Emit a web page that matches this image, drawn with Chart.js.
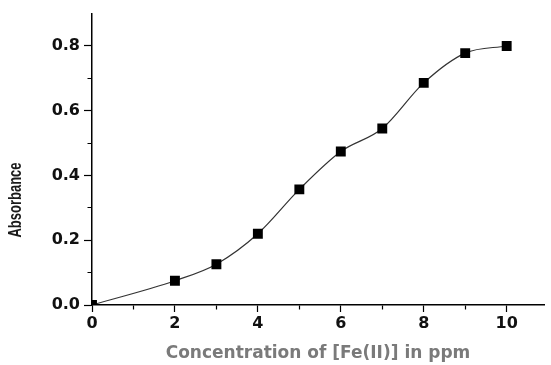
<!DOCTYPE html>
<html lang="en">
<head>
    <meta charset="UTF-8">
    <title>Absorbance vs Concentration</title>
    <script src="https://cdn.jsdelivr.net/npm/chart.js"></script>
    <style>
        body {
            margin: 0;
            background: #fff;
        }
        #wrap {
            width: 551px;
            height: 365px;
        }
    </style>
</head>
<body>
    <div id="wrap">
        <canvas id="absChart" width="551" height="365"></canvas>
    </div>

    <script>
        // data
        const concentration = [0, 2, 3, 4, 5, 6, 7, 8, 9, 10];
        const absorbance = [0, 0.075, 0.126, 0.22, 0.357, 0.474, 0.545, 0.686, 0.778, 0.80];

        const xMajorTicks = [0, 2, 4, 6, 8, 10];
        const xMinorTicks = [1, 3, 5, 7, 9];
        const yMajorTicks = [0, 0.2, 0.4, 0.6, 0.8];
        const yMinorTicks = [0.1, 0.3, 0.5, 0.7];

        const xTitle = 'Concentration of [Fe(II)] in ppm';
        const yTitle = 'Absorbance';

        const tickFont = { family: 'DejaVu Sans, sans-serif', size: 16, weight: 'bold' };

        function isMajor(list, v) {
            return list.some(m => Math.abs(m - v) < 1e-6);
        }

        // y title drawn by hand so it can sit lower than the axis centre
        const yTitlePlugin = {
            id: 'yTitle',
            afterDraw(chart) {
                const ctx = chart.ctx;
                ctx.save();
                ctx.translate(16, 200);
                ctx.rotate(-Math.PI / 2);
                ctx.scale(1, 1.4);
                ctx.font = 'bold 13px "Liberation Sans", Arial, sans-serif';
                ctx.fillStyle = '#1a1a1a';
                ctx.textAlign = 'center';
                ctx.textBaseline = 'middle';
                ctx.fillText(yTitle, 0, 0);
                ctx.restore();
            }
        };

        const points = concentration.map((c, i) => ({ x: c, y: absorbance[i] }));

        new Chart(document.getElementById('absChart'), {
            type: 'scatter',
            data: {
                datasets: [{
                    data: points,
                    showLine: true,
                    borderColor: '#333',
                    borderWidth: 1.2,
                    cubicInterpolationMode: 'monotone',
                    pointStyle: 'rect',
                    pointRadius: 7,
                    pointHoverRadius: 7,
                    pointBackgroundColor: '#000',
                    pointBorderColor: '#000',
                    pointBorderWidth: 0,
                    clip: 0
                }]
            },
            options: {
                responsive: false,
                animation: false,
                layout: {
                    padding: { left: 0, right: 3, top: 13, bottom: 1 }
                },
                plugins: {
                    legend: { display: false },
                    tooltip: { enabled: false }
                },
                scales: {
                    x: {
                        type: 'linear',
                        min: 0,
                        max: 10.9,
                        afterBuildTicks: scale => {
                            scale.ticks = [...xMajorTicks, ...xMinorTicks]
                                .sort((a, b) => a - b)
                                .map(v => ({ value: v }));
                        },
                        afterFit: scale => { scale.height = 59; },
                        border: { display: true, color: '#000', width: 1.5 },
                        grid: {
                            drawOnChartArea: false,
                            drawTicks: true,
                            tickLength: 7,
                            tickColor: '#000',
                            tickWidth: 1.2,
                            tickBorderDash: ctx => isMajor(xMajorTicks, ctx.tick.value) ? [] : [4, 100]
                        },
                        ticks: {
                            autoSkip: false,
                            maxRotation: 0,
                            padding: 2,
                            color: '#111',
                            font: tickFont,
                            callback: v => isMajor(xMajorTicks, v) ? String(v) : ''
                        },
                        title: {
                            display: true,
                            text: xTitle,
                            color: '#7a7a7a',
                            font: { family: 'DejaVu Sans, sans-serif', size: 17, weight: 'bold' },
                            padding: 0
                        }
                    },
                    y: {
                        min: 0,
                        max: 0.9,
                        afterBuildTicks: scale => {
                            scale.ticks = [...yMajorTicks, ...yMinorTicks]
                                .sort((a, b) => a - b)
                                .map(v => ({ value: v }));
                        },
                        afterFit: scale => { scale.width = 92; },
                        border: { display: true, color: '#000', width: 1.5 },
                        grid: {
                            drawOnChartArea: false,
                            drawTicks: true,
                            tickLength: 8,
                            tickColor: '#000',
                            tickWidth: 1.2,
                            tickBorderDash: ctx => isMajor(yMajorTicks, ctx.tick.value) ? [] : [0, 3.5, 4.5, 100]
                        },
                        ticks: {
                            autoSkip: false,
                            padding: 4,
                            color: '#111',
                            font: tickFont,
                            callback: v => isMajor(yMajorTicks, v) ? v.toFixed(1) : ''
                        }
                    }
                }
            },
            plugins: [yTitlePlugin]
        });
    </script>
</body>
</html>
